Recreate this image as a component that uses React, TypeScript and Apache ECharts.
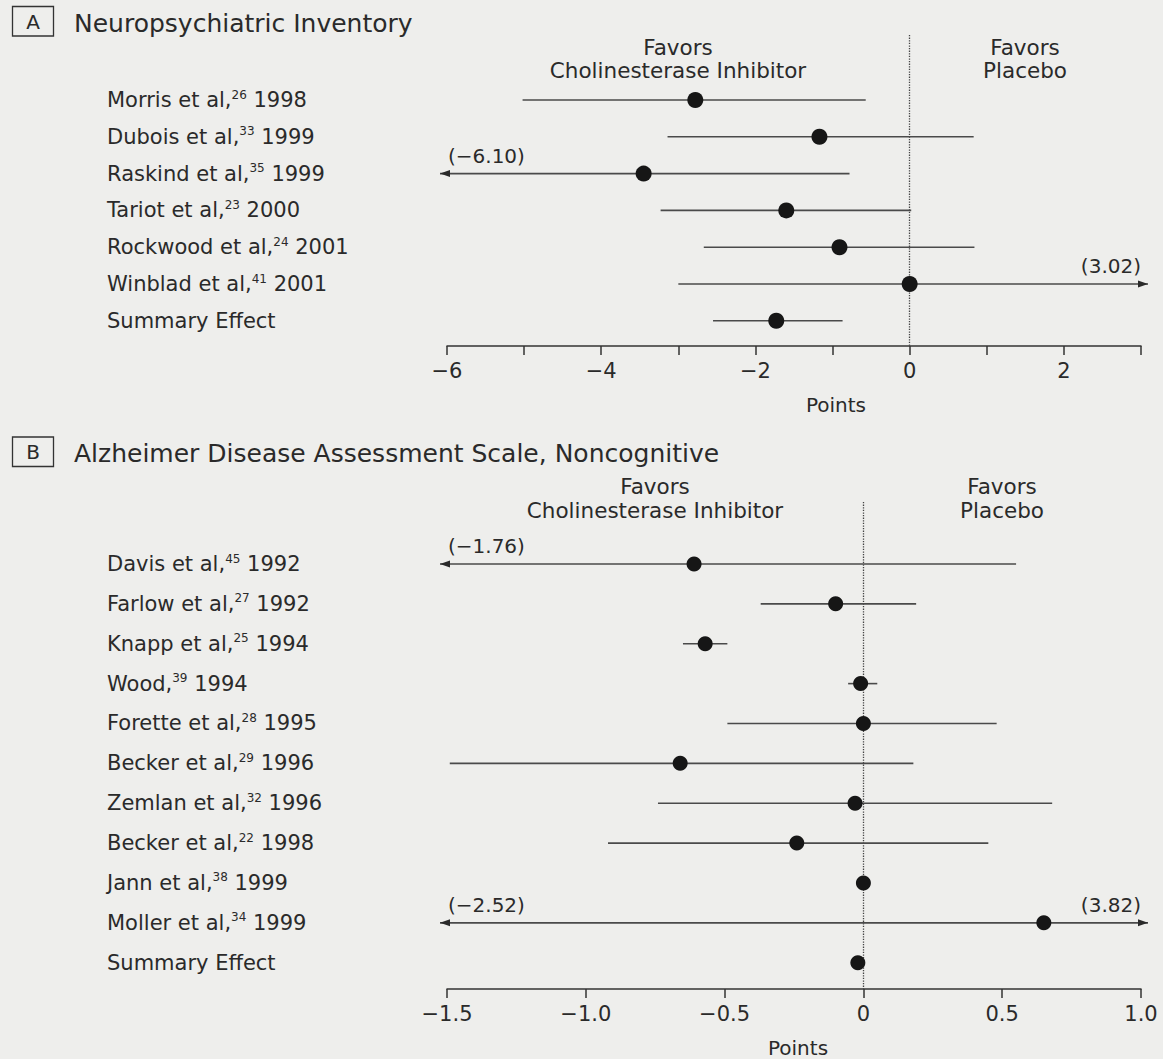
import React, { useEffect, useRef } from 'react';
import * as echarts from 'echarts';

const FONT = '"DejaVu Sans", "Liberation Sans", sans-serif';
const INK = '#2a2a2a';
const LINE = '#4a4a4a';
const BG = '#eeeeec';

// ---------- Panel A: Neuropsychiatric Inventory ----------
const A_AUTHORS = ['Morris et al,', 'Dubois et al,', 'Raskind et al,', 'Tariot et al,', 'Rockwood et al,', 'Winblad et al,', 'Summary Effect'];
const A_REFS = ['26', '33', '35', '23', '24', '41', ''];
const A_YEARS = ['1998', '1999', '1999', '2000', '2001', '2001', ''];
const A_EST = [-2.78, -1.17, -3.45, -1.6, -0.91, 0.0, -1.73];
const A_LOW = [-5.02, -3.14, -6.1, -3.23, -2.67, -3.0, -2.55];
const A_HIGH = [-0.57, 0.83, -0.78, 0.02, 0.84, 3.02, -0.87];
const A_XMIN = -6;
const A_XMAX = 3;
const A_XSTEP = 1;

// ---------- Panel B: ADAS, Noncognitive ----------
const B_AUTHORS = ['Davis et al,', 'Farlow et al,', 'Knapp et al,', 'Wood,', 'Forette et al,', 'Becker et al,', 'Zemlan et al,', 'Becker et al,', 'Jann et al,', 'Moller et al,', 'Summary Effect'];
const B_REFS = ['45', '27', '25', '39', '28', '29', '32', '22', '38', '34', ''];
const B_YEARS = ['1992', '1992', '1994', '1994', '1995', '1996', '1996', '1998', '1999', '1999', ''];
const B_EST = [-0.61, -0.1, -0.57, -0.01, 0.0, -0.66, -0.03, -0.24, 0.0, 0.65, -0.02];
const B_LOW = [-1.76, -0.37, -0.65, -0.055, -0.49, -1.49, -0.74, -0.92, -0.02, -2.52, -0.045];
const B_HIGH = [0.55, 0.19, -0.49, 0.05, 0.48, 0.18, 0.68, 0.45, 0.02, 3.82, 0.005];
const B_XMIN = -1.5;
const B_XMAX = 1.0;
const B_XSTEP = 0.5;

// ---------- layout (pixels) ----------
const GRID_LEFT = 447;
const GRID_RIGHT = 22;
const A_TOP = 35, A_BOTTOM = 346, A_FIRST = 100, A_STEP = 36.8;
const B_TOP = 502, B_BOTTOM = 989, B_FIRST = 564, B_STEP = 39.87;

const fmt = (v: number, d: number) => (v < 0 ? '\u2212' : '') + Math.abs(v).toFixed(d);

const labelRich = {
  n: { fontSize: 21, fontFamily: FONT, color: INK, lineHeight: 23 },
  s: { fontSize: 12, fontFamily: FONT, color: INK, lineHeight: 11.5, verticalAlign: 'top' },
};

function rowLabel(authors: string[], refs: string[], years: string[], v: number) {
  const i = Math.round(v);
  if (i < 0 || i >= authors.length) return '';
  if (!refs[i]) return '{n|' + authors[i] + '}';
  return '{n|' + authors[i] + '}{s|' + refs[i] + '}{n| ' + years[i] + '}';
}

function ciSeries(idx: number, est: number[], low: number[], high: number[], xmin: number, xmax: number) {
  return {
    type: 'custom',
    xAxisIndex: idx,
    yAxisIndex: idx,
    clip: false,
    z: 2,
    silent: true,
    data: est.map((e, i) => [e, low[i], high[i], i]),
    encode: { x: [1, 2], y: 3 },
    renderItem: (params: any, api: any) => {
      const lo = api.value(1);
      const hi = api.value(2);
      const row = api.value(3);
      const a = api.coord([Math.max(lo, xmin), row]);
      const b = api.coord([Math.min(hi, xmax), row]);
      const y = a[1];
      const leftCut = lo < xmin;
      const rightCut = hi > xmax;
      const x1 = a[0] - (leftCut ? 7 : 0);
      const x2 = b[0] + (rightCut ? 7 : 0);
      const children: any[] = [
        { type: 'line', shape: { x1, y1: y, x2, y2: y }, style: { stroke: LINE, lineWidth: 1.6 } },
      ];
      const txt = (text: string, x: number, align: string) => ({
        type: 'text',
        style: {
          text, x, y: y - 18, fill: INK, fontSize: 20, fontFamily: FONT,
          align, textAlign: align, verticalAlign: 'middle', textVerticalAlign: 'middle',
        },
      });
      if (leftCut) {
        children.push({ type: 'polygon', shape: { points: [[x1, y], [x1 + 10, y - 3.5], [x1 + 10, y + 3.5]] }, style: { fill: INK } });
        children.push(txt('(' + fmt(lo, 2) + ')', a[0] + 1, 'left'));
      }
      if (rightCut) {
        children.push({ type: 'polygon', shape: { points: [[x2, y], [x2 - 10, y - 3.5], [x2 - 10, y + 3.5]] }, style: { fill: INK } });
        children.push(txt('(' + fmt(hi, 2) + ')', b[0], 'right'));
      }
      return { type: 'group', children };
    },
  };
}

function pointSeries(idx: number, est: number[], size: number) {
  return {
    type: 'scatter',
    xAxisIndex: idx,
    yAxisIndex: idx,
    z: 4,
    silent: true,
    symbol: 'circle',
    symbolSize: size,
    itemStyle: { color: '#161616', opacity: 1 },
    data: est.map((e, i) => [e, i]),
    markLine: {
      silent: true,
      symbol: ['none', 'none'],
      label: { show: false },
      lineStyle: { type: 'dotted', color: '#444', width: 1.3 },
      data: [{ xAxis: 0 }],
      z: 1,
    },
  };
}

function xAxisCfg(idx: number, min: number, max: number, step: number, fmtLabel: (v: number) => string, namePad: number[]) {
  return {
    gridIndex: idx,
    type: 'value',
    position: 'bottom',
    min,
    max,
    interval: step,
    name: 'Points',
    nameLocation: 'middle',
    nameGap: 49,
    nameTextStyle: { fontSize: 20, fontFamily: FONT, color: INK, padding: namePad },
    axisLine: { show: true, onZero: false, lineStyle: { color: '#333', width: 1.5 } },
    axisTick: { show: true, length: 9, lineStyle: { color: '#333', width: 1.5 } },
    splitLine: { show: false },
    axisLabel: { show: true, margin: 14, fontSize: 21, fontFamily: FONT, color: INK, formatter: fmtLabel },
  };
}

function yAxisCfg(idx: number, top: number, bottom: number, first: number, step: number,
  authors: string[], refs: string[], years: string[]) {
  return {
    gridIndex: idx,
    type: 'value',
    position: 'left',
    inverse: true,
    min: (top - first) / step,
    max: (bottom - first) / step,
    axisLine: { show: false, onZero: false },
    axisTick: { show: false },
    splitLine: { show: false },
    axisLabel: {
      show: true,
      customValues: authors.map((_, i) => i),
      align: 'left',
      margin: GRID_LEFT - 107,
      formatter: (v: number) => rowLabel(authors, refs, years, v),
      rich: labelRich,
    },
  };
}

function headerText(text: string, x: number, y: number, size: number, align = 'left', lineHeight?: number) {
  return {
    type: 'text',
    x,
    y,
    silent: true,
    style: {
      text, fill: INK, fontSize: size, fontFamily: FONT, lineHeight: lineHeight || size * 1.15,
      align, textAlign: align, verticalAlign: 'middle', textVerticalAlign: 'middle',
    },
  };
}

export default function App() {
  const ref = useRef<HTMLDivElement>(null);
  useEffect(() => {
    if (!ref.current) return;
    const chart = echarts.init(ref.current, null, { renderer: 'svg' });
    const option: any = {
      animation: false,
      backgroundColor: BG,
      textStyle: { fontFamily: FONT },
      grid: [
        { left: GRID_LEFT, right: GRID_RIGHT, top: A_TOP, height: A_BOTTOM - A_TOP, containLabel: false, outerBoundsMode: 'none' },
        { left: GRID_LEFT, right: GRID_RIGHT, top: B_TOP, height: B_BOTTOM - B_TOP, containLabel: false, outerBoundsMode: 'none' },
      ],
      xAxis: [
        xAxisCfg(0, A_XMIN, A_XMAX, A_XSTEP, (v) => (Math.abs(v % 2) < 1e-9 ? fmt(v, 0) : ''), [0, 0, 0, 84]),
        xAxisCfg(1, B_XMIN, B_XMAX, B_XSTEP, (v) => (Math.abs(v) < 1e-9 ? '0' : fmt(v, 1)), [0, 0, 0, 8]),
      ],
      yAxis: [
        yAxisCfg(0, A_TOP, A_BOTTOM, A_FIRST, A_STEP, A_AUTHORS, A_REFS, A_YEARS),
        yAxisCfg(1, B_TOP, B_BOTTOM, B_FIRST, B_STEP, B_AUTHORS, B_REFS, B_YEARS),
      ],
      series: [
        ciSeries(0, A_EST, A_LOW, A_HIGH, A_XMIN, A_XMAX),
        pointSeries(0, A_EST, 16),
        ciSeries(1, B_EST, B_LOW, B_HIGH, B_XMIN, B_XMAX),
        pointSeries(1, B_EST, 15),
      ],
      graphic: [
        { type: 'rect', silent: true, shape: { x: 12.5, y: 6.5, width: 41, height: 29.5 }, style: { fill: 'none', stroke: '#333', lineWidth: 1.3 } },
        headerText('A', 33, 21.5, 20, 'center'),
        headerText('Neuropsychiatric Inventory', 74, 23, 25),
        headerText('Favors\nCholinesterase Inhibitor', 678, 59, 21.5, 'center', 23),
        headerText('Favors\nPlacebo', 1025, 59, 21.5, 'center', 23),
        { type: 'rect', silent: true, shape: { x: 12.5, y: 437, width: 41, height: 29.5 }, style: { fill: 'none', stroke: '#333', lineWidth: 1.3 } },
        headerText('B', 33, 452, 20, 'center'),
        headerText('Alzheimer Disease Assessment Scale, Noncognitive', 74, 453, 25),
        headerText('Favors\nCholinesterase Inhibitor', 655, 498, 21.5, 'center', 24),
        headerText('Favors\nPlacebo', 1002, 498, 21.5, 'center', 24),
      ],
    };
    chart.setOption(option);
    return () => chart.dispose();
  }, []);
  return (
    <div
      ref={ref}
      style={{ position: 'absolute', left: 0, top: 0, width: 1163, height: 1059, background: BG }}
    />
  );
}
